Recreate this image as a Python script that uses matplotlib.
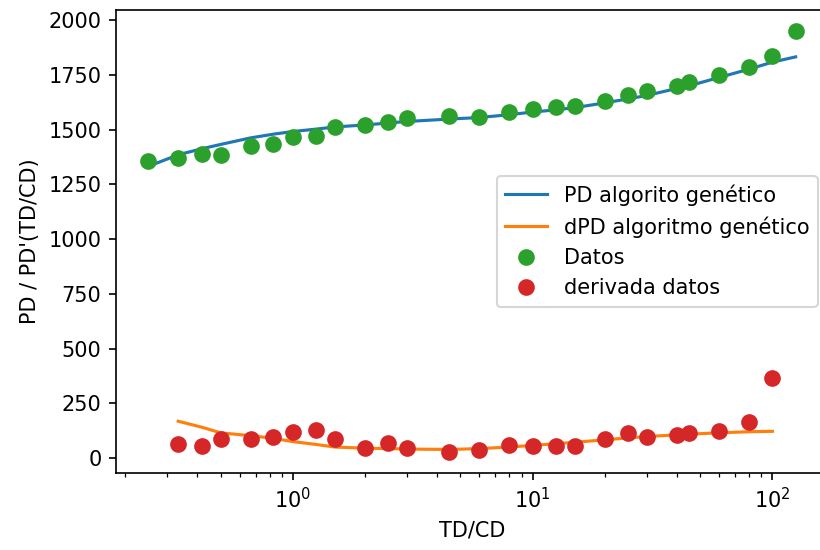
import matplotlib
matplotlib.use('Agg')
import matplotlib.pyplot as plt
import numpy as np

# TD/CD values of the measured points
td_cd = [0.25, 0.333, 0.42, 0.5, 0.667, 0.83, 1.0, 1.25, 1.5, 2.0, 2.5, 3.0, 4.5,
         6.0, 8.0, 10.0, 12.5, 15.0, 20.0, 25.0, 30.0, 40.0, 45.0, 60.0, 80.0,
         100.0, 125.0]
pd_datos = [1358, 1368, 1388, 1385, 1426, 1435, 1465, 1471, 1513, 1523, 1533,
            1554, 1562, 1559, 1582, 1594, 1601, 1609, 1630, 1657, 1678, 1700,
            1718, 1748, 1786, 1835, 1950]
pd_ga = [1332, 1385, 1413, 1432, 1462, 1479, 1491, 1502, 1512, 1521, 1530,
         1537, 1548, 1555, 1568, 1580, 1590, 1600, 1622, 1640, 1656, 1688,
         1700, 1738, 1776, 1808, 1832]

# derivative data (first and last TD/CD points have none)
td_cd_d = td_cd[1:-1]
dpd_datos = [65, 56, 86, 86, 95, 117, 126, 86, 47, 68, 47, 29, 36, 58, 55, 56,
             53, 86, 115, 94, 105, 115, 124, 164, 367]
dpd_ga = [168, 140, 115, 102, 90, 75, 62, 50, 45, 43, 41, 39, 43, 50, 58, 65,
          72, 83, 92, 98, 106, 109, 115, 120, 122]

dpi = 150
fig = plt.figure(figsize=(820 / dpi, 550 / dpi), dpi=dpi)
# axes runs past the right edge, as in the cropped original
ax = fig.add_axes([116 / 820, 1 - 472.7 / 550, (828 - 116) / 820, (472.7 - 10) / 550])

ax.plot(td_cd, pd_ga, label='PD algorito genético')
ax.plot(td_cd_d, dpd_ga, label='dPD algoritmo genético')
ax.plot(td_cd, pd_datos, 'o', markersize=7, label='Datos')
ax.plot(td_cd_d, dpd_datos, 'o', markersize=7, label='derivada datos')

ax.set_xscale('log')
ax.set_xlabel('TD/CD')
ax.set_ylabel("PD / PD'(TD/CD)")
ax.spines['right'].set_visible(False)
ax.legend(loc='center right')

fig.savefig('out.png', dpi=dpi)
